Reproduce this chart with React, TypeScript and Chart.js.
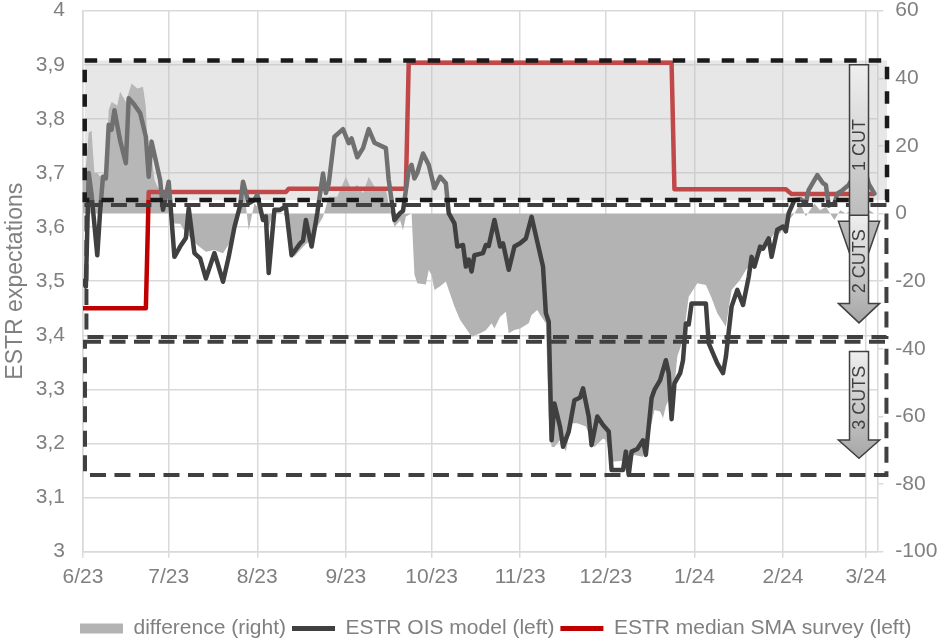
import React, { useEffect, useRef } from 'react';
import { Chart, registerables } from 'chart.js';

Chart.register(...registerables);

// ---------- Data ----------
// x values are calendar days counted from 1 June 2023
const monthTickDays = [0, 30, 61, 92, 122, 153, 183, 214, 245, 274];
const monthTickLabels = ['6/23', '7/23', '8/23', '9/23', '10/23', '11/23', '12/23', '1/24', '2/24', '3/24'];
const leftTickLabels = ['3', '3,1', '3,2', '3,3', '3,4', '3,5', '3,6', '3,7', '3,8', '3,9', '4'];

const seriesLabels = ['difference (right)', 'ESTR OIS model (left)', 'ESTR median SMA survey (left)'];
const seriesColors = ['#b3b3b3', '#404040', '#c00000'];

const diffDays = [
  0, 1, 2, 3, 4, 5, 6, 8, 9, 10, 12, 13, 15, 17, 19, 21, 22, 23, 24, 25, 26, 27, 28, 30, 31, 32, 34, 36, 40, 43,
  46, 49, 52, 54, 56, 58, 60, 61, 63, 64, 65, 67, 70, 71, 74, 76, 78, 80, 82, 84, 86, 89, 92, 94, 96, 98, 100, 102,
  106, 107, 109, 111, 112, 113, 115, 116, 117, 120, 121, 122, 123, 125, 127, 128, 130, 132, 134, 136, 139, 141, 143,
  144, 146, 148, 149, 151, 153, 156, 157, 159, 160, 162, 163, 164, 165, 167, 169, 171, 173, 176, 179, 182, 183, 185,
  190, 193, 196, 197, 199, 200, 202, 203, 204, 205, 206, 208, 210, 212, 215, 218, 220, 222, 225, 227, 230, 232, 236,
  239, 242, 244, 246, 249, 251, 253, 256, 258, 260, 263, 265, 267, 270, 272, 274, 277,
];
const diffValues = [
  12, 14, 24, 24.5, 12, 12, 11, 12, 30.7, 33, 32, 36, 33, 38.5, 37, 37.5, 31.6, 11, 17, 10, 8, 7, 2, 9, 0, -2.9, -3,
  -5.8, -9.3, -11.3, -10.8, -11.7, -7.8, -0.9, 10, -4.9, 3, 2, -2, -3.9, -4, 1, 0, -1, -12.7, -10.8, -9, -7.8, -3.9,
  -1, 5, 5, 10.9, 7, 8.5, 6, 10.9, 8, 7, 3, -4, -2, -4.9, -0.9, 0, -18, -20.6, -21, -16.7, -18.2, -22.6, -21.5, -20.1,
  -22.6, -27.5, -31.5, -33.9, -36.4, -35.4, -34.5, -32.4, -34, -30.5, -29, -35.4, -34.4, -34, -32.4, -30, -28.5, -30,
  -32.4, -60, -69, -69, -67, -70.4, -62, -62, -63, -69, -66.5, -67, -73.4, -73, -71.4, -71.9, -68, -62, -58.1, -58.5,
  -60.5, -57, -55, -60, -42.3, -37.4, -24.6, -20.6, -21.1, -25, -29.5, -33.5, -22.6, -19.6, -16.7, -12.7, -9.8, -5.8,
  -5.8, -2.9, 0, 3, -0.9, 3, 1, 2, -1.9, 1, 0, 1.6, 4, 1.6, 0,
];

const oisDays = [
  0, 1, 2, 3, 5, 6, 7, 8, 9, 10, 11, 13, 15, 16, 18, 20, 22, 23, 24, 27, 28, 30, 32, 34, 36, 37, 39, 41, 43, 46, 47,
  49, 51, 53, 55, 56, 58, 60, 61, 63, 64, 65, 67, 69, 71, 73, 76, 77, 78, 80, 82, 84, 85, 86, 88, 91, 93, 94, 96, 98,
  100, 102, 106, 107, 109, 111, 112, 114, 115, 116, 117, 119, 121, 123, 125, 127, 128, 130, 131, 133, 134, 135, 136,
  137, 140, 141, 142, 144, 146, 147, 149, 151, 153, 155, 157, 159, 161, 162, 163, 164, 165, 167, 168, 170, 172, 174,
  175, 177, 178, 180, 182, 184, 185, 187, 189, 190, 191, 192, 194, 196, 197, 199, 200, 202, 204, 205, 206, 207, 209,
  210, 211, 212, 213, 218, 219, 222, 224, 225, 227, 229, 231, 233, 234, 235, 237, 238, 240, 241, 243, 245, 246, 247,
  249, 251, 253, 254, 257, 259, 260, 261, 263, 264, 266, 268, 271, 274, 275, 277,
];
const oisValues = [
  3.5, 3.49, 3.7, 3.66, 3.548, 3.63, 3.693, 3.69, 3.789, 3.78, 3.816, 3.76, 3.718, 3.838, 3.826, 3.811, 3.767, 3.693,
  3.758, 3.687, 3.632, 3.684, 3.545, 3.564, 3.58, 3.635, 3.552, 3.542, 3.505, 3.552, 3.535, 3.499, 3.545, 3.6, 3.64,
  3.684, 3.644, 3.65, 3.66, 3.613, 3.62, 3.515, 3.632, 3.632, 3.638, 3.548, 3.57, 3.575, 3.613, 3.564, 3.626, 3.699,
  3.663, 3.68, 3.767, 3.781, 3.755, 3.764, 3.729, 3.746, 3.781, 3.756, 3.746, 3.687, 3.613, 3.626, 3.63, 3.706, 3.715,
  3.69, 3.7, 3.736, 3.715, 3.672, 3.693, 3.681, 3.626, 3.607, 3.564, 3.567, 3.527, 3.54, 3.518, 3.548, 3.552, 3.567,
  3.565, 3.613, 3.564, 3.57, 3.521, 3.564, 3.57, 3.579, 3.619, 3.573, 3.527, 3.441, 3.425, 3.206, 3.274, 3.23, 3.194,
  3.222, 3.28, 3.285, 3.302, 3.25, 3.197, 3.25, 3.234, 3.222, 3.151, 3.151, 3.151, 3.185, 3.142, 3.185, 3.19, 3.206,
  3.179, 3.284, 3.299, 3.317, 3.354, 3.33, 3.245, 3.311, 3.33, 3.354, 3.422, 3.42, 3.459, 3.459, 3.385, 3.348, 3.33,
  3.36, 3.453, 3.484, 3.456, 3.508, 3.545, 3.527, 3.564, 3.56, 3.579, 3.545, 3.595, 3.601, 3.592, 3.626, 3.65, 3.652,
  3.645, 3.669, 3.696, 3.681, 3.678, 3.64, 3.644, 3.662, 3.669, 3.678, 3.706, 3.7, 3.68, 3.662,
];

const surveyDays = [0, 22, 23, 71, 72, 113, 114, 206, 207, 246, 248, 277];
const surveyValues = [3.45, 3.45, 3.665, 3.665, 3.671, 3.671, 3.904, 3.904, 3.67, 3.67, 3.661, 3.661];

// "cut" zones (in left-axis rate units and days)
const cutZones = [
  { label: '1 CUT', topRate: 3.908, bottomRate: 3.65, startDay: 0.6, endDay: 281.4, stroke: '#1a1a1a', shaded: true, arrowTopRate: 3.9, headRate: 3.611, tipRate: 3.502 },
  { label: '2 CUTS', topRate: 3.641, bottomRate: 3.397, startDay: 1.2, endDay: 281.2, stroke: '#404040', shaded: false, arrowTopRate: 3.622, headRate: 3.459, tipRate: 3.423 },
  { label: '3 CUTS', topRate: 3.388, bottomRate: 3.142, startDay: 0.7, endDay: 281.2, stroke: '#404040', shaded: false, arrowTopRate: 3.37, headRate: 3.2065, tipRate: 3.1726 },
];
const arrowDay = 271.6;

const FONT = '"Liberation Sans", Arial, Helvetica, sans-serif';
const GRID = '#d9d9d9';
const TEXT = '#808080';

const zonesPlugin = {
  id: 'cutZones',
  afterDatasetsDraw(chart: any) {
    const { ctx, scales } = chart;
    const x = scales.x;
    const y = scales.y;
    ctx.save();
    // shading
    for (const z of cutZones) {
      if (!z.shaded) continue;
      const l = x.getPixelForValue(z.startDay);
      const r = x.getPixelForValue(z.endDay);
      const t = y.getPixelForValue(z.topRate);
      const b = y.getPixelForValue(z.bottomRate);
      ctx.fillStyle = 'rgba(192,192,192,0.375)';
      ctx.fillRect(l, t, r - l, b - t);
    }
    // dashed frames (draw black one last)
    for (let i = cutZones.length - 1; i >= 0; i--) {
      const z = cutZones[i];
      const l = x.getPixelForValue(z.startDay);
      const r = x.getPixelForValue(z.endDay);
      const t = y.getPixelForValue(z.topRate);
      const b = y.getPixelForValue(z.bottomRate);
      ctx.strokeStyle = z.stroke;
      ctx.lineWidth = z.shaded ? 4.5 : 4;
      ctx.setLineDash(z.shaded ? [12.5, 12] : [16, 8.5]);
      ctx.strokeRect(l, t, r - l, b - t);
    }
    // arrows
    ctx.setLineDash([]);
    const cx = x.getPixelForValue(arrowDay);
    const sw = 9.5;
    const hw = 20.6;
    for (const z of cutZones) {
      const top = y.getPixelForValue(z.arrowTopRate);
      const neck = y.getPixelForValue(z.headRate);
      const tip = y.getPixelForValue(z.tipRate);
      ctx.beginPath();
      ctx.moveTo(cx - sw, top);
      ctx.lineTo(cx + sw, top);
      ctx.lineTo(cx + sw, neck);
      ctx.lineTo(cx + hw, neck);
      ctx.lineTo(cx, tip);
      ctx.lineTo(cx - hw, neck);
      ctx.lineTo(cx - sw, neck);
      ctx.closePath();
      const g = ctx.createLinearGradient(0, top, 0, tip);
      g.addColorStop(0, '#efefef');
      g.addColorStop(1, '#a6a6a6');
      ctx.fillStyle = g;
      ctx.fill();
      ctx.lineWidth = 1.5;
      ctx.strokeStyle = '#404040';
      ctx.stroke();
      ctx.save();
      ctx.translate(cx + 1, (top + neck) / 2 + 2);
      ctx.rotate(-Math.PI / 2);
      ctx.font = `18px ${FONT}`;
      ctx.fillStyle = '#404040';
      ctx.textAlign = 'center';
      ctx.textBaseline = 'middle';
      ctx.fillText(z.label, 0, 0);
      ctx.restore();
    }
    ctx.restore();
  },
};

const legendShiftPlugin = {
  id: 'legendShift',
  afterLayout(chart: any) {
    const lg = chart.legend;
    if (!lg || !lg.lineWidths) return;
    const pad = lg.options.labels.padding;
    const start = (lg.left + pad + lg.right - lg.lineWidths[0]) / 2;
    const dx = 80 - start;
    lg.left += dx;
    lg.right += dx;
    lg.top += 7;
    lg.bottom += 7;
  },
};

export default function App() {
  const ref = useRef<HTMLCanvasElement | null>(null);

  useEffect(() => {
    if (!ref.current) return;
    Chart.defaults.font.family = FONT;
    Chart.defaults.color = TEXT;

    const chart = new Chart(ref.current, {
      type: 'line',
      data: {
        datasets: [
          {
            label: seriesLabels[0],
            data: diffDays.map((d, i) => ({ x: d, y: diffValues[i] })),
            yAxisID: 'y1',
            backgroundColor: seriesColors[0],
            borderColor: 'rgba(0,0,0,0)',
            borderWidth: 0,
            pointRadius: 0,
            fill: 'origin',
            order: 3,
          },
          {
            label: seriesLabels[1],
            data: oisDays.map((d, i) => ({ x: d, y: oisValues[i] })),
            yAxisID: 'y',
            borderColor: seriesColors[1],
            backgroundColor: seriesColors[1],
            borderWidth: 4.5,
            borderJoinStyle: 'round',
            borderCapStyle: 'round',
            pointRadius: 0,
            fill: false,
            order: 1,
          },
          {
            label: seriesLabels[2],
            data: surveyDays.map((d, i) => ({ x: d, y: surveyValues[i] })),
            yAxisID: 'y',
            borderColor: seriesColors[2],
            backgroundColor: seriesColors[2],
            borderWidth: 4.5,
            borderJoinStyle: 'round',
            pointRadius: 0,
            fill: false,
            order: 2,
          },
        ],
      },
      options: {
        animation: false,
        responsive: false,
        devicePixelRatio: 1,
        layout: { padding: { top: 10.7, left: 0, right: 0, bottom: 0 } },
        plugins: {
          tooltip: { enabled: false },
          legend: {
            position: 'bottom',
            labels: {
              font: { size: 21, family: FONT },
              color: TEXT,
              usePointStyle: true,
              pointStyleWidth: 43,
              boxWidth: 43,
              boxHeight: 10,
              padding: 6,
              sort: (a: any, b: any) => a.datasetIndex - b.datasetIndex,
              generateLabels: () =>
                seriesLabels.map((text, i) => ({
                  text,
                  fillStyle: seriesColors[i],
                  strokeStyle: seriesColors[i],
                  lineWidth: i === 0 ? 0 : 5,
                  pointStyle: i === 0 ? 'rect' : 'line',
                  lineCap: 'butt',
                  hidden: false,
                  datasetIndex: i,
                  fontColor: TEXT,
                })),
            },
          },
        },
        scales: {
          x: {
            type: 'linear',
            min: 0,
            max: 278,
            afterBuildTicks: (s: any) => {
              s.ticks = monthTickDays.map((v) => ({ value: v }));
            },
            ticks: {
              autoSkip: false,
              maxRotation: 0,
              minRotation: 0,
              padding: 7,
              font: { size: 21 },
              color: TEXT,
              callback: (_v: any, i: number) => monthTickLabels[i],
            },
            grid: { color: GRID, lineWidth: 1.5, tickLength: 6 },
            border: { color: GRID, width: 1.5 },
            afterFit: (s: any) => {
              const lh = s.chart.legend ? s.chart.legend.height : 0;
              s.height = 642 - 551.7 - lh;
              s.paddingLeft = 0;
              s.paddingRight = 0;
            },
          },
          y: {
            position: 'left',
            min: 3,
            max: 4,
            ticks: {
              stepSize: 0.1,
              padding: 18,
              font: { size: 21 },
              color: TEXT,
              callback: (_v: any, i: number) => leftTickLabels[i],
            },
            grid: { color: GRID, lineWidth: 1.5, drawTicks: false },
            border: { color: GRID, width: 1.5 },
            title: {
              display: true,
              text: 'ESTR expectations',
              font: { size: 23 },
              color: TEXT,
              padding: { top: 2, bottom: 0 },
            },
            afterFit: (s: any) => {
              s.width = 83;
              s.paddingTop = 0;
              s.paddingBottom = 0;
            },
          },
          y1: {
            position: 'right',
            min: -100,
            max: 60,
            ticks: { stepSize: 20, padding: 12, font: { size: 21 }, color: TEXT },
            grid: { drawOnChartArea: false, color: GRID, lineWidth: 1.5, tickLength: 6 },
            border: { color: GRID, width: 1.5 },
            afterFit: (s: any) => {
              s.width = 937 - 877.3;
              s.paddingTop = 0;
              s.paddingBottom = 0;
            },
          },
        },
      } as any,
      plugins: [zonesPlugin, legendShiftPlugin],
    });
    return () => chart.destroy();
  }, []);

  return (
    <div style={{ position: 'absolute', left: 0, top: 0, width: 937, height: 642, background: '#ffffff' }}>
      <canvas ref={ref} width={937} height={642} style={{ display: 'block' }} />
    </div>
  );
}
